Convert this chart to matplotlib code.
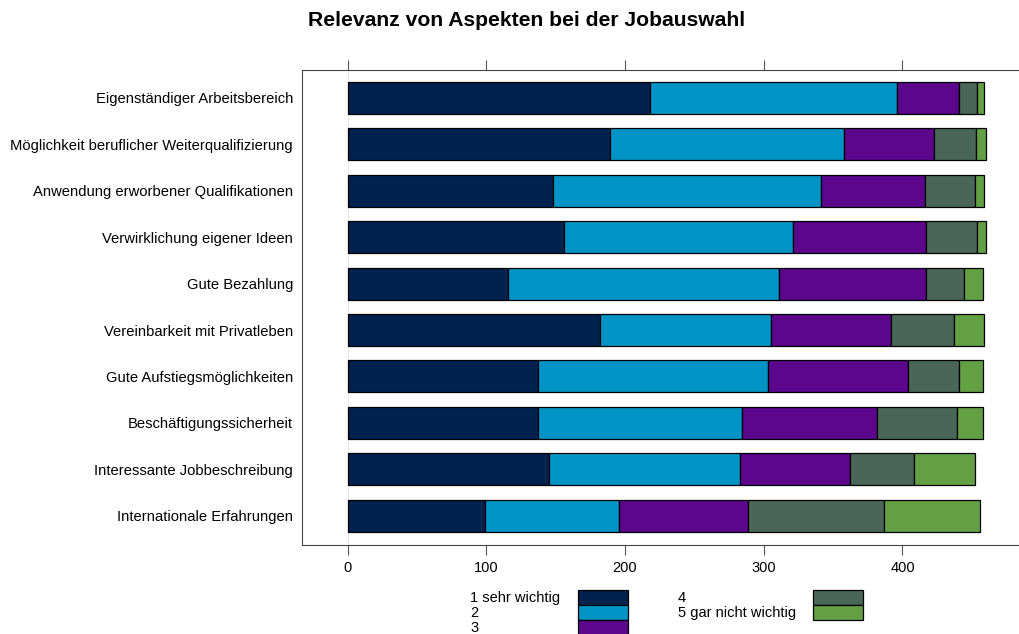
import matplotlib
matplotlib.use("Agg")
import matplotlib.pyplot as plt
from matplotlib.patches import Rectangle
import numpy as np

# --- DATA ---
aspects = [
    "Eigenständiger Arbeitsbereich",
    "Möglichkeit beruflicher Weiterqualifizierung",
    "Anwendung erworbener Qualifikationen",
    "Verwirklichung eigener Ideen",
    "Gute Bezahlung",
    "Vereinbarkeit mit Privatleben",
    "Gute Aufstiegsmöglichkeiten",
    "Beschäftigungssicherheit",
    "Interessante Jobbeschreibung",
    "Internationale Erfahrungen",
]
levels = ["1 sehr wichtig", "2", "3", "4", "5 gar nicht wichtig"]
sehr_wichtig = [218, 189, 148, 156, 116, 182, 137, 137, 145, 99]
stufe_2 = [178, 169, 193, 165, 195, 123, 166, 147, 138, 97]
stufe_3 = [45, 65, 75, 96, 106, 87, 101, 98, 79, 93]
stufe_4 = [13, 30, 36, 37, 27, 45, 37, 57, 46, 98]
gar_nicht = [5, 7, 7, 6, 14, 22, 17, 19, 44, 69]
xticks = [0, 100, 200, 300, 400]

colors = ["#00224f", "#0093c6", "#5b068b", "#4a6659", "#62a043"]

plt.rcParams['font.family'] = ['Liberation Sans', 'DejaVu Sans']

W, H = 1019, 634
fig = plt.figure(figsize=(W / 100, H / 100), dpi=100)
ax = fig.add_axes([302 / W, 1 - 545 / H, 1 - 302 / W, (545 - 70) / H])

series = [sehr_wichtig, stufe_2, stufe_3, stufe_4, gar_nicht]
y = np.arange(len(aspects))
left = np.zeros(len(aspects))
for vals, col, lab in zip(series, colors, levels):
    ax.barh(y, vals, left=left, height=0.69, color=col, edgecolor="black",
            linewidth=0.9, label=lab, zorder=3)
    left += np.array(vals)

ax.axvline(0, color="#e6e6e6", lw=0.8, zorder=1)

ax.set_ylim(len(aspects) - 0.37, -0.6)
ax.set_xlim(-32.8, 484)
ax.set_yticks(y)
ax.set_yticklabels(aspects, fontsize=10.6)
ax.set_xticks(xticks)
ax.set_xticklabels([str(t) for t in xticks], fontsize=10.5)

ax.tick_params(axis="y", length=0, pad=6.5)
ax.tick_params(axis="x", top=True, bottom=True, direction="out", length=7.5,
               width=0.8, color="#555555", pad=4)
for side in ["left", "top", "bottom"]:
    ax.spines[side].set_color("#444444")
    ax.spines[side].set_linewidth(0.8)
ax.spines["right"].set_visible(False)

fig.text(527 / W, 1 - 20 / H, "Relevanz von Aspekten bei der Jobauswahl",
         ha="center", va="center", fontsize=15.2, fontweight="bold")

# legend: two columns, label left-aligned, colour box to the right
col_text_x = [470, 678]
col_box_x = [578, 813]
box_w, box_h = 50, 15
top_y = 589.5
for i, (lab, col) in enumerate(zip(levels, colors)):
    c = 0 if i < 3 else 1
    r = i if i < 3 else i - 3
    y0 = top_y + r * box_h
    fig.patches.append(Rectangle((col_box_x[c] / W, 1 - (y0 + box_h) / H),
                                 box_w / W, box_h / H, transform=fig.transFigure,
                                 facecolor=col, edgecolor="black", linewidth=0.9))
    fig.text(col_text_x[c] / W, 1 - (y0 + 12.5) / H, lab, ha="left",
             va="baseline", fontsize=10.5)

fig.savefig("out.png", dpi=100)
